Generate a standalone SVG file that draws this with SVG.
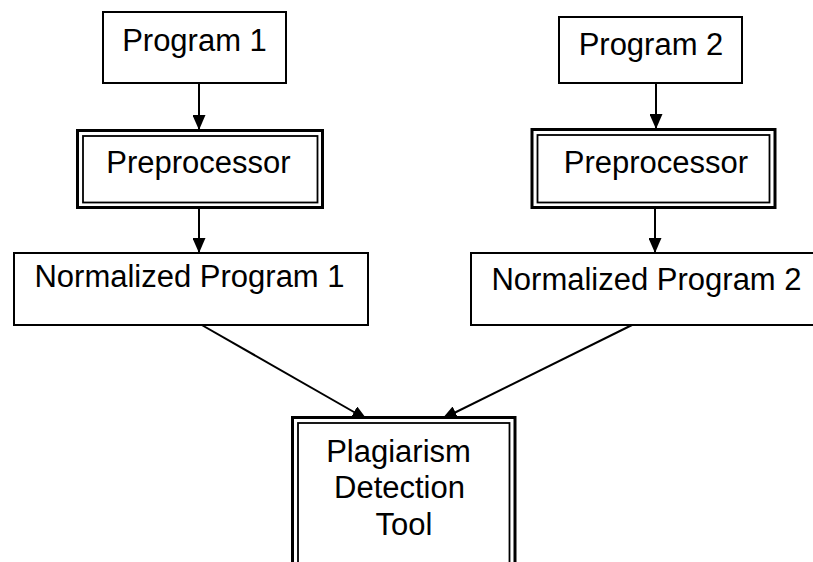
<svg xmlns="http://www.w3.org/2000/svg" width="813" height="562" viewBox="0 0 813 562">
<style>
.box{fill:#fff;stroke:#000;stroke-width:2}
.outer{fill:#fff;stroke:#000;stroke-width:3}
.inner{fill:none;stroke:#000;stroke-width:1.8}
.lbl{font-family:"Liberation Sans",Arial,sans-serif;font-size:31px;fill:#000;text-anchor:middle}
.conn{stroke:#000;stroke-width:2;fill:none;marker-end:url(#ah)}
</style>
<defs>
<marker id="ah" markerUnits="userSpaceOnUse" markerWidth="15" markerHeight="13" refX="15" refY="6.5" orient="auto">
<path d="M0,0 L15,6.5 L0,13 z" fill="#000"/>
</marker>
</defs>
<rect width="813" height="562" fill="#fff"/>
<g id="connectors">
<line class="conn" x1="199" y1="83" x2="199" y2="130"/>
<line class="conn" x1="656" y1="83" x2="656" y2="129"/>
<line class="conn" x1="199" y1="208" x2="199" y2="253"/>
<line class="conn" x1="655" y1="208" x2="655" y2="253"/>
<line class="conn" x1="200" y1="324" x2="367" y2="419.5"/>
<line class="conn" x1="632" y1="325" x2="442" y2="419"/>
</g>
<g id="program1">
<rect class="box" x="103" y="12" width="183" height="71"/>
<text class="lbl" x="194.5" y="51">Program 1</text>
</g>
<g id="program2">
<rect class="box" x="559" y="17" width="183" height="66"/>
<text class="lbl" x="651" y="55">Program 2</text>
</g>
<g id="preprocessor1">
<rect class="outer" x="77.5" y="130.5" width="245" height="77"/>
<rect class="inner" x="83" y="136" width="234.5" height="66.5"/>
<text class="lbl" x="198.5" y="173">Preprocessor</text>
</g>
<g id="preprocessor2">
<rect class="outer" x="532" y="129.5" width="243" height="78"/>
<rect class="inner" x="537.5" y="135" width="232" height="67.5"/>
<text class="lbl" x="656" y="173">Preprocessor</text>
</g>
<g id="normalized1">
<rect class="box" x="14" y="253" width="354" height="72"/>
<text class="lbl" x="189.5" y="287">Normalized Program 1</text>
</g>
<g id="normalized2">
<rect class="box" x="471" y="253" width="351" height="72"/>
<text class="lbl" x="646.5" y="289.5">Normalized Program 2</text>
</g>
<g id="plagiarism">
<rect class="outer" x="292.5" y="417.5" width="222.5" height="160"/>
<rect class="inner" x="298" y="423" width="211.5" height="150"/>
<text class="lbl" x="398.5" y="462">Plagiarism</text>
<text class="lbl" x="399.5" y="498">Detection</text>
<text class="lbl" x="404" y="535">Tool</text>
</g>
</svg>
